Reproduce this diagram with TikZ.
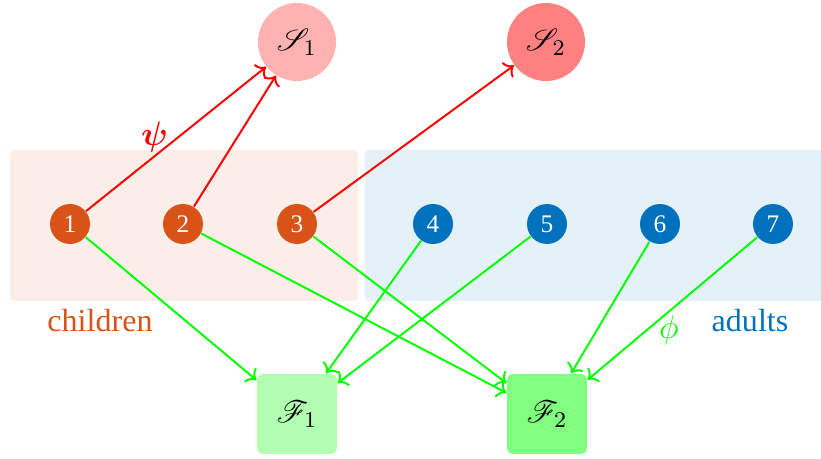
\documentclass[tikz,border=0pt]{standalone}
\usepackage{fontspec}
\setmainfont{Liberation Serif}
\usepackage{amsmath, amssymb, bm}
\usepackage{mathrsfs}
\usepackage{xcolor}
\usetikzlibrary{arrows.meta}
\usetikzlibrary{positioning}
\definecolor{kidcol}{HTML}{D95319}
\definecolor{adultcol}{HTML}{0072BD}
\tikzset{
    kid/.style={
        circle,
        fill=kidcol,
        text=white,
        minimum size=0.5cm,
        inner sep=0pt,
        font=\small
    },
    adult/.style={
        circle,
        fill=adultcol,
        text=white,
        minimum size=0.5cm,
        inner sep=0pt,
        font=\small
    },
    group/.style={
        rounded corners=1.5pt
    },
    grouplabel/.style={
        font=\fontsize{11.4}{14}\selectfont
    },
    sgoal/.style={
        circle,
        minimum size=0.975cm,
        inner sep=0pt,
        font=\fontsize{11}{13}\selectfont
    },
    fgoal/.style={
        rectangle,
        rounded corners=2pt,
        minimum size=1cm,
        inner sep=0pt,
        font=\fontsize{11}{13}\selectfont
    },
    sarrow/.style={
        draw=red,
        ->,
        line width=0.7pt
    },
    farrow/.style={
        draw=green,
        ->,
        line width=0.7pt
    }
}

\begin{document}
\begin{tikzpicture}[scale=1.0]
    \useasboundingbox (0,0) rectangle (10.2625,5.7375);

    % groups
    \fill[group, kidcol!10] (0.125,1.975) rectangle (4.475,3.8625);
    \fill[group, adultcol!10] (4.5625,1.975) rectangle (10.6,3.8625);
    \node[grouplabel, text=kidcol] (kids) at (1.25,1.73) {children};
    \node[grouplabel, text=adultcol] (adults) at (9.375,1.73) {adults};

    % members
    \node[kid] (n1) at (0.875,2.9375) {1};
    \node[kid] (n2) at (2.2875,2.9375) {2};
    \node[kid] (n3) at (3.7125,2.9375) {3};
    \node[adult] (n4) at (5.4125,2.9375) {4};
    \node[adult] (n5) at (6.8375,2.9375) {5};
    \node[adult] (n6) at (8.25,2.9375) {6};
    \node[adult] (n7) at (9.6625,2.9375) {7};

    % targets
    \node[sgoal, fill=red!30] (S1) at (3.7125,5.2125) {$\mathscr{S}_1$};
    \node[sgoal, fill=red!50] (S2) at (6.825,5.2125) {$\mathscr{S}_2$};
    \node[fgoal, fill=green!30] (F1) at (3.7125,0.5625) {$\mathscr{F}_1$};
    \node[fgoal, fill=green!50] (F2) at (6.8375,0.5625) {$\mathscr{F}_2$};

    \draw[sarrow] (n1) -- node[pos=0.38, above, text=red, inner sep=1pt] (psi) {\large$\bm{\psi}$} (S1);
    \draw[sarrow] (n2) -- (S1);
    \draw[sarrow] (n3) -- (S2);

    \draw[farrow] (n1) -- (F1);
    \draw[farrow] (n2) -- (F2);
    \draw[farrow] (n3) -- (F2);
    \draw[farrow] (n4) -- (F1);
    \draw[farrow] (n5) -- (F1);
    \draw[farrow] (n6) -- (F2);
    \draw[farrow] (n7) -- node[pos=0.65, right, text=green, inner sep=4pt] (phi) {\large$\phi$} (F2);
\end{tikzpicture}
\end{document}
